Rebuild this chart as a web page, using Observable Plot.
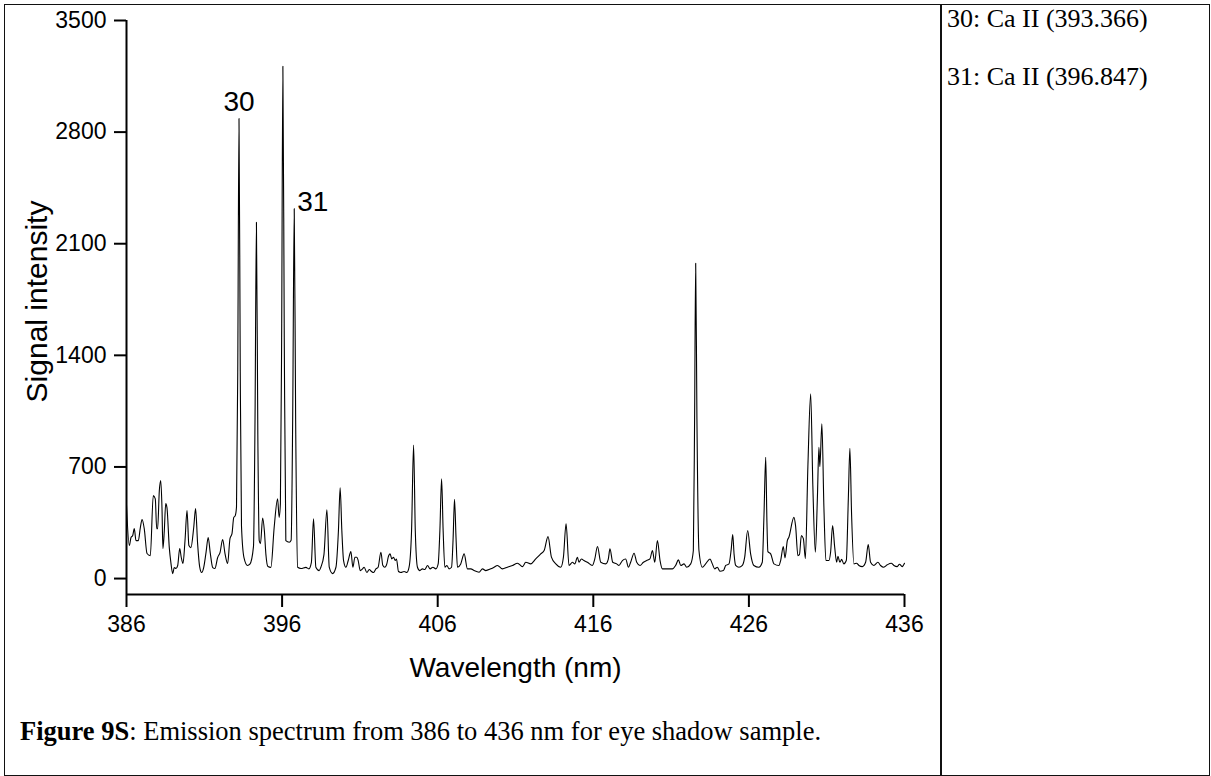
<!DOCTYPE html>
<html><head><meta charset="utf-8">
<script src="https://cdn.jsdelivr.net/npm/d3@7"></script>
<script src="https://cdn.jsdelivr.net/npm/@observablehq/plot@0.6"></script>
<style>
html,body{margin:0;padding:0;background:#fff;}
#page{position:relative;width:1211px;height:776px;overflow:hidden;}
#frame{position:absolute;left:4px;top:4px;width:1206px;height:772px;border:1.5px solid #111;box-sizing:border-box;}
#divider{position:absolute;left:940px;top:4px;width:2px;height:772px;background:#111;}
#chart{position:absolute;left:0;top:0;}
.legend{position:absolute;left:947px;font-family:"Liberation Serif","Times New Roman",serif;font-size:26px;line-height:26px;white-space:nowrap;color:#000;}
#caption{position:absolute;left:20px;top:718px;font-family:"Liberation Serif","Times New Roman",serif;font-size:26.5px;line-height:26px;white-space:nowrap;color:#000;}
</style>
</head><body>
<div id="page">
  <div id="frame"></div>
  <div id="divider"></div>
  <div id="chart"></div>
  <div id="legend"></div>
  <div id="caption"></div>
</div>
<script>
// ---- data ----
const wavelength = [
386.00,386.18,386.29,386.40,386.50,386.61,386.76,386.89,387.00,387.14,387.32,387.53,387.72,387.85,387.94,388.00,
388.11,388.20,388.28,388.34,388.43,388.52,388.60,388.75,388.86,388.97,389.07,389.18,389.29,389.42,389.52,389.63,
389.76,389.89,390.01,390.14,390.32,390.44,390.57,390.70,390.83,390.96,391.11,391.25,391.38,391.54,391.68,391.86,
392.01,392.18,392.33,392.50,392.65,392.78,392.89,392.99,393.07,393.15,393.23,393.31,393.39,393.55,393.78,393.93,
394.16,394.26,394.35,394.44,394.53,394.61,394.75,394.86,394.96,395.09,395.28,395.49,395.71,395.81,395.89,395.97,
396.05,396.14,396.24,396.46,396.58,396.68,396.78,396.87,397.00,397.21,397.53,397.72,397.88,398.02,398.17,398.38,
398.49,398.69,398.88,399.03,399.24,399.46,399.62,399.73,399.84,399.95,400.10,400.25,400.42,400.55,400.68,400.80,
400.89,401.02,401.17,401.27,401.45,401.60,401.75,401.88,402.03,402.17,402.35,402.47,402.60,402.73,402.82,402.94,
403.05,403.16,403.27,403.35,403.48,403.63,403.84,404.02,404.16,404.32,404.45,404.56,404.70,404.85,405.02,405.17,
405.35,405.51,405.69,405.88,406.03,406.14,406.25,406.35,406.46,406.59,406.73,406.89,406.99,407.08,407.18,407.27,
407.48,407.70,407.91,408.13,408.34,408.66,408.88,409.09,409.41,409.62,409.84,410.16,410.48,410.81,411.13,411.45,
411.66,411.98,412.30,412.62,412.84,413.09,413.31,413.59,413.91,414.08,414.25,414.44,414.66,414.81,414.98,415.08,
415.24,415.40,415.62,415.94,416.09,416.27,416.48,416.80,416.96,417.07,417.25,417.50,417.65,417.87,418.08,418.26,
418.40,418.62,418.79,419.00,419.22,419.43,419.64,419.80,419.95,420.12,420.29,420.44,420.76,421.08,421.29,421.47,
421.62,421.83,422.00,422.26,422.43,422.51,422.58,422.66,422.79,423.01,423.22,423.50,423.65,423.80,423.97,424.14,
424.36,424.51,424.72,424.86,424.96,425.05,425.15,425.36,425.58,425.73,425.92,426.11,426.32,426.64,426.86,426.97,
427.08,427.16,427.22,427.40,427.61,427.93,428.04,428.21,428.32,428.47,428.57,428.89,429.00,429.15,429.25,429.37,
429.50,429.63,429.79,429.97,430.11,430.27,430.40,430.50,430.56,430.69,430.82,430.95,431.14,431.25,431.38,431.51,
431.64,431.72,431.85,431.96,432.10,432.26,432.39,432.49,432.60,432.75,432.92,433.07,433.29,433.50,433.67,433.82,
434.03,434.29,434.46,434.67,434.89,435.15,435.32,435.53,435.68,435.85,436.00
];
const intensity = [
460,207,257,270,313,238,238,320,370,313,157,144,520,500,313,313,
552,615,445,188,301,470,445,194,94,31,69,63,82,188,132,94,
238,426,207,194,320,439,219,75,38,69,163,257,163,69,63,132,
163,245,157,94,251,282,382,395,450,1300,2885,1300,330,132,82,90,
200,1000,2234,900,238,219,380,300,150,75,70,320,500,384,470,1500,
3213,1500,238,228,240,1000,2320,1000,71,63,70,61,100,374,71,50,
71,150,431,71,31,71,300,569,300,113,71,113,169,71,134,134,
113,50,61,71,38,57,44,38,61,71,165,84,71,92,134,155,
123,134,113,123,44,38,44,38,71,300,838,300,71,50,61,57,
82,61,71,61,92,300,625,300,71,82,61,71,250,497,250,71,
92,155,61,61,50,40,61,50,61,71,82,61,71,82,96,75,
102,92,123,155,176,263,134,92,71,134,343,82,102,92,134,102,
123,113,102,82,120,201,102,92,120,186,102,92,82,113,123,71,
102,159,102,82,102,113,123,176,102,238,113,61,61,61,82,117,
82,92,71,92,176,1000,1977,1000,176,71,92,123,92,61,71,46,
50,82,92,180,276,150,82,71,82,134,301,155,82,71,102,400,
760,350,169,155,92,82,113,200,130,238,259,384,330,144,150,270,
250,125,700,1158,580,165,500,823,702,970,450,113,113,165,332,200,
102,140,102,120,92,113,500,817,400,92,96,82,75,102,213,102,
82,102,82,71,86,96,82,75,90,75,96
];
const xTicks = [386, 396, 406, 416, 426, 436];
const yTicks = [0, 700, 1400, 2100, 2800, 3500];
const peakLabels = ["30", "31"];
const peakWavelength = [393.23, 396.78];
const peakIntensity = [2885, 2320];
const legendLines = ["30: Ca II (393.366)", "31: Ca II (396.847)"];
const xTitle = "Wavelength (nm)";
const yTitle = "Signal intensity";
const captionBold = "Figure 9S";
const captionRest = ": Emission spectrum from 386 to 436 nm for eye shadow sample.";

// ---- build ----
const spectrum = wavelength.map((w, i) => ({wavelength: w, intensity: intensity[i]}));
const peaks = peakLabels.map((t, i) => ({label: t, x: peakWavelength[i], y: peakIntensity[i]}));

const chart = Plot.plot({
  width: 940,
  height: 690,
  marginLeft: 126,
  marginRight: 36,
  marginTop: 20,
  marginBottom: 96,
  x: {domain: [386, 436]},
  y: {domain: [-100, 3500]},
  style: {fontFamily: "'Liberation Sans', Arial, sans-serif", fontSize: "23px", background: "transparent", color: "#000", overflow: "visible"},
  marks: [
    Plot.axisX({ticks: xTicks, tickSize: 13, tickPadding: 8, fontSize: 23, strokeWidth: 2, label: null, tickFormat: d => String(d)}),
    Plot.axisY({ticks: yTicks, tickSize: 12, tickPadding: 8, fontSize: 23, strokeWidth: 2, label: null, tickFormat: d => String(d)}),
    Plot.ruleX([386], {stroke: "#000", strokeWidth: 2}),
    Plot.ruleY([-100], {stroke: "#000", strokeWidth: 2}),
    Plot.line(spectrum, {x: "wavelength", y: "intensity", stroke: "#000", strokeWidth: 1.1, curve: "monotone-x"}),
    Plot.text(peaks.slice(0, 1), {x: "x", y: "y", text: "label", textAnchor: "middle", lineAnchor: "bottom", dy: -8, fontSize: 28, fill: "#000"}),
    Plot.text(peaks.slice(1), {x: "x", y: "y", text: "label", textAnchor: "start", lineAnchor: "bottom", dx: 3, dy: 2, fontSize: 28, fill: "#000"}),
    Plot.text([xTitle], {text: d => d, frameAnchor: "bottom", textAnchor: "middle", lineAnchor: "bottom", dy: 82, fontSize: 28, fill: "#000"}),
    Plot.text([yTitle], {text: d => d, frameAnchor: "left", textAnchor: "middle", rotate: -90, lineAnchor: "bottom", dx: -80, dy: -6, fontSize: 30, fill: "#000"})
  ]
});
document.getElementById("chart").appendChild(chart);

const legend = document.getElementById("legend");
legendLines.forEach((t, i) => {
  const d = document.createElement("div");
  d.className = "legend";
  d.style.top = (6 + i * 58) + "px";
  d.textContent = t;
  legend.appendChild(d);
});
const cap = document.getElementById("caption");
const b = document.createElement("b");
b.textContent = captionBold;
cap.appendChild(b);
cap.appendChild(document.createTextNode(captionRest));
</script>
</body></html>
